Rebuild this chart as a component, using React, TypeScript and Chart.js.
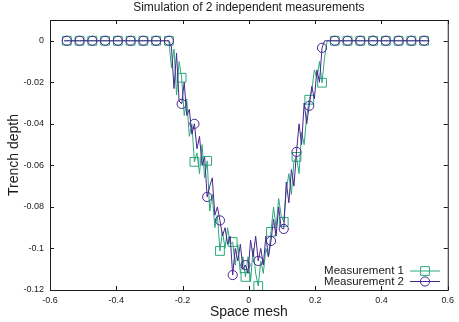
import { useEffect, useRef } from 'react';
import { Chart, registerables } from 'chart.js';

Chart.register(...registerables);

const TITLE = 'Simulation of 2 independent measurements';
const X_LABEL = 'Space mesh';
const Y_LABEL = 'Trench depth';
const SERIES_NAMES = ['Measurement 1', 'Measurement 2'];
const SERIES_COLORS = ['#2aa97a', '#4a2590'];

const X_TICKS = [-0.6, -0.4, -0.2, 0, 0.2, 0.4, 0.6];
const X_TICK_LABELS = ['-0.6', '-0.4', '-0.2', '0', '0.2', '0.4', '0.6'];
const Y_TICKS = [-0.12, -0.1, -0.08, -0.06, -0.04, -0.02, 0];
const Y_TICK_LABELS = ['-0.12', '-0.1', '-0.08', '-0.06', '-0.04', '-0.02', '0'];

// uniform space mesh
const MESH_START = -0.557;
const MESH_STEP = 0.0077;
// a marker is drawn on every 5th mesh node
const MARK_EVERY = 5;
const MARK_OFFSET = 1;

const DEPTH_1 = [
  0, 0, 0, 0, 0, 0, 0, 0, 0, 0,
  0, 0, 0, 0, 0, 0, 0, 0, 0, 0,
  0, 0, 0, 0, 0, 0, 0, 0, 0, 0,
  0, 0, 0, 0, 0, 0, 0, 0, 0, 0,
  0,
  0, -0.013, -0.004, -0.026, -0.010, -0.0178, -0.036, -0.028, -0.046, -0.040,
  -0.0583, -0.054, -0.064, -0.050, -0.066, -0.0578, -0.082, -0.074, -0.090, -0.084,
  -0.1012, -0.092, -0.100, -0.090, -0.098, -0.0969, -0.108, -0.098, -0.112, -0.104,
  -0.1137, -0.104, -0.116, -0.100, -0.112, -0.1181, -0.106, -0.112, -0.100, -0.104,
  -0.092, -0.080, -0.090, -0.076, -0.084, -0.0872, -0.072, -0.064, -0.074, -0.058,
  -0.0559, -0.064, -0.044, -0.050, -0.036, -0.0284, -0.024, -0.014, -0.018, -0.010,
  -0.0202, -0.008, 0,
  0, 0, 0, 0, 0, 0, 0, 0, 0, 0,
  0, 0, 0, 0, 0, 0, 0, 0, 0, 0,
  0, 0, 0, 0, 0, 0, 0, 0, 0, 0,
  0, 0, 0, 0, 0, 0, 0, 0, 0, 0,
];

const DEPTH_2 = [
  0, 0, 0, 0, 0, 0, 0, 0, 0, 0,
  0, 0, 0, 0, 0, 0, 0, 0, 0, 0,
  0, 0, 0, 0, 0, 0, 0, 0, 0, 0,
  0, 0, 0, 0, 0, 0, 0, 0, 0, 0,
  0,
  0, -0.003, -0.023, -0.006, -0.029, -0.0304, -0.020, -0.036, -0.033, -0.045,
  -0.040, -0.052, -0.046, -0.060, -0.056, -0.0752, -0.070, -0.066, -0.084, -0.080,
  -0.0865, -0.094, -0.090, -0.098, -0.094, -0.1128, -0.100, -0.106, -0.098, -0.110,
  -0.108, -0.112, -0.096, -0.104, -0.094, -0.106, -0.100, -0.108, -0.094, -0.104,
  -0.0964, -0.086, -0.094, -0.080, -0.090, -0.0906, -0.068, -0.078, -0.062, -0.070,
  -0.0535, -0.040, -0.050, -0.030, -0.040, -0.0313, -0.022, -0.028, -0.014, -0.020,
  -0.0034, 0, 0,
  0, 0, 0, 0, 0, 0, 0, 0, 0, 0,
  0, 0, 0, 0, 0, 0, 0, 0, 0, 0,
  0, 0, 0, 0, 0, 0, 0, 0, 0, 0,
  0, 0, 0, 0, 0, 0, 0, 0, 0, 0,
];

const FONT = '"Liberation Sans", Arial, Helvetica, sans-serif';
const INK = '#1a1a1a';
const POINT_STYLES = ['rect', 'circle'];
const POINT_RADII = [6.2, 4.6];

const toPoints = (depth: number[]) =>
  depth.map((y, i) => ({ x: MESH_START + i * MESH_STEP, y }));

function drawMarker(ctx: CanvasRenderingContext2D, style: string, r: number, x: number, y: number) {
  ctx.beginPath();
  if (style === 'rect') {
    const h = r * Math.SQRT1_2;
    ctx.rect(x - h, y - h, 2 * h, 2 * h);
  } else {
    ctx.arc(x, y, r, 0, Math.PI * 2);
  }
  ctx.stroke();
}

// gnuplot-like frame: border, inward ticks on all sides, titles and key
const framePlugin = {
  id: 'frame',
  afterDatasetsDraw(chart: any) {
    const { ctx, chartArea: a, scales } = chart;
    ctx.save();
    ctx.strokeStyle = INK;
    ctx.lineWidth = 1;
    const tick = 4;
    ctx.beginPath();
    for (const v of X_TICKS) {
      const x = Math.round(scales.x.getPixelForValue(v)) + 0.5;
      ctx.moveTo(x, a.bottom);
      ctx.lineTo(x, a.bottom - tick);
      ctx.moveTo(x, a.top);
      ctx.lineTo(x, a.top + tick);
    }
    for (const v of Y_TICKS) {
      const y = Math.round(scales.y.getPixelForValue(v)) + 0.5;
      ctx.moveTo(a.left, y);
      ctx.lineTo(a.left + tick, y);
      ctx.moveTo(a.right, y);
      ctx.lineTo(a.right - tick, y);
    }
    ctx.stroke();
    ctx.strokeRect(a.left + 0.5, a.top + 0.5, a.right - a.left, a.bottom - a.top);

    ctx.fillStyle = INK;
    ctx.textAlign = 'center';
    ctx.textBaseline = 'middle';
    ctx.font = `12px ${FONT}`;
    ctx.fillText(TITLE, (a.left + a.right) / 2, 8);
    ctx.font = `14px ${FONT}`;
    ctx.fillText(X_LABEL, (a.left + a.right) / 2, 312);
    ctx.save();
    ctx.translate(14, (a.top + a.bottom) / 2);
    ctx.rotate(-Math.PI / 2);
    ctx.fillText(Y_LABEL, 0, 0);
    ctx.restore();

    // key, bottom right inside the frame
    ctx.font = `11.5px ${FONT}`;
    ctx.textAlign = 'right';
    SERIES_NAMES.forEach((name, k) => {
      const y = 271 + k * 10.5;
      ctx.fillStyle = INK;
      ctx.fillText(name, 404, y);
      ctx.strokeStyle = SERIES_COLORS[k];
      ctx.lineWidth = 1;
      ctx.beginPath();
      ctx.moveTo(410, y);
      ctx.lineTo(440, y);
      ctx.stroke();
      drawMarker(ctx, POINT_STYLES[k], POINT_RADII[k], 425, y);
    });
    ctx.restore();
  },
};

export default function App() {
  const canvasRef = useRef<HTMLCanvasElement | null>(null);

  useEffect(() => {
    const canvas = canvasRef.current;
    if (!canvas) return;
    const series = [DEPTH_1, DEPTH_2];
    const chart = new Chart(canvas, {
      type: 'line',
      data: {
        datasets: series.map((depth, k) => ({
          label: SERIES_NAMES[k],
          data: toPoints(depth),
          borderColor: SERIES_COLORS[k],
          borderWidth: 1,
          tension: 0,
          fill: false,
          order: 1 - k,
          pointStyle: POINT_STYLES[k] as any,
          pointRadius: (c: any) =>
            (c.dataIndex - MARK_OFFSET) % MARK_EVERY === 0 ? POINT_RADII[k] : 0,
          pointHoverRadius: 0,
          pointBorderWidth: 1,
          pointBorderColor: SERIES_COLORS[k],
          pointBackgroundColor: 'rgba(0,0,0,0)',
        })),
      },
      options: {
        responsive: false,
        animation: false,
        devicePixelRatio: 1,
        events: [],
        layout: { padding: { top: 20, right: 8, left: 0, bottom: 0 } },
        plugins: {
          legend: { display: false },
          title: { display: false },
          tooltip: { enabled: false },
        },
        scales: {
          x: {
            type: 'linear',
            min: -0.6,
            max: 0.6,
            afterBuildTicks: (s: any) => {
              s.ticks = X_TICKS.map((value) => ({ value }));
            },
            afterFit: (s: any) => {
              s.height = 32;
            },
            grid: { display: false, drawTicks: false },
            border: { display: false },
            ticks: {
              autoSkip: false,
              maxRotation: 0,
              padding: 5,
              color: INK,
              font: { size: 9, family: FONT },
              callback: (_v: any, i: number) => X_TICK_LABELS[i],
            },
          },
          y: {
            type: 'linear',
            min: -0.12,
            max: 0.01,
            afterBuildTicks: (s: any) => {
              s.ticks = Y_TICKS.map((value) => ({ value }));
            },
            afterFit: (s: any) => {
              s.width = 50;
            },
            grid: { display: false, drawTicks: false },
            border: { display: false },
            ticks: {
              autoSkip: false,
              padding: 6,
              color: INK,
              font: { size: 9, family: FONT },
              callback: (_v: any, i: number) => Y_TICK_LABELS[i],
            },
          },
        },
      },
      plugins: [framePlugin],
    });
    return () => chart.destroy();
  }, []);

  return (
    <div style={{ position: 'fixed', left: 0, top: 0, width: 459, height: 322, background: '#fff' }}>
      <canvas ref={canvasRef} width={459} height={322} style={{ display: 'block' }} />
    </div>
  );
}
